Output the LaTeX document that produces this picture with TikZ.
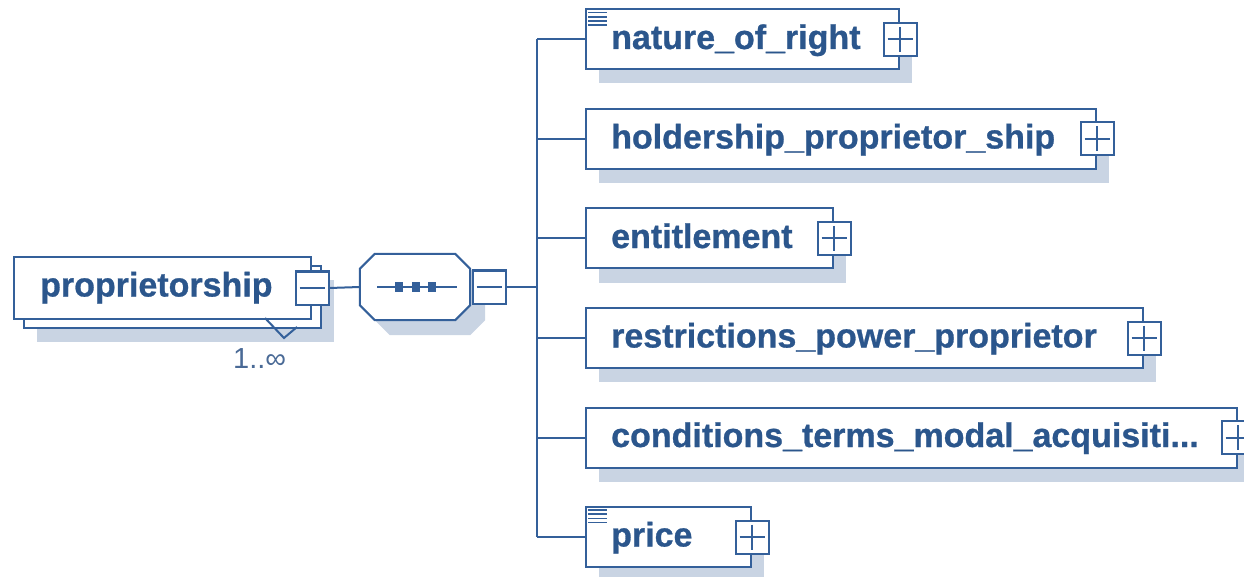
\documentclass[tikz,border=0pt]{standalone}
\usepackage{fontspec}
\setmainfont{Liberation Sans}[BoldFeatures={FakeBold=0.8}]
\usetikzlibrary{shadows}

\definecolor{edge}{HTML}{34609A}
\definecolor{ink}{HTML}{2B568C}
\definecolor{shade}{HTML}{C9D4E3}
\definecolor{cardink}{HTML}{4A6A96}

\tikzset{
  lw/.style={line width=2pt},
  boxshadow/.style={drop shadow={shadow xshift=13pt, shadow yshift=-14pt, fill=shade, opacity=1}},
  elem/.style={draw=edge, fill=white, rectangle, minimum height=60pt,
    inner sep=0pt, anchor=west, lw, boxshadow},
  plain/.style={draw=edge, fill=white, rectangle, inner sep=0pt, lw},
  elemname/.style={font=\bfseries\fontsize{34}{40}\selectfont, text=ink,
    anchor=base west, inner sep=0pt},
  expander/.style={draw=edge, fill=white, minimum size=33pt, inner sep=0pt, lw},
  plusbox/.style={expander, path picture={
    \draw[edge, lw]
      ([xshift=4pt]path picture bounding box.west) -- ([xshift=-4pt]path picture bounding box.east)
      ([yshift=-4pt]path picture bounding box.north) -- ([yshift=4pt]path picture bounding box.south);}},
  minusbox/.style={expander, path picture={
    \draw[edge, lw]
      ([xshift=4pt]path picture bounding box.west) -- ([xshift=-4pt]path picture bounding box.east);}},
  wire/.style={draw=edge, lw},
  docline/.style={draw=edge, line width=1.7pt},
  dot/.style={fill=edge, draw=none, minimum width=8pt, minimum height=10pt, inner sep=0pt},
}

\begin{document}
\begin{tikzpicture}[x=1pt, y=-1pt]
\useasboundingbox (0,0) rectangle (1244,577);

% ---- root element: repeated (1..inf) ----
\node[plain, minimum width=297pt, minimum height=62pt, anchor=north west, boxshadow]
  (rootback) at (23,265) {};
\node[plain, minimum width=297pt, minimum height=62pt, anchor=north west] (root) at (13,256) {};
\node[elemname] (rootname) at (40,296.5) {proprietorship};
\node[minusbox] (rootminus) at (root.east) {};
\draw[wire] (265,318) -- (284,338) -- (297,327);
\node[font=\fontsize{29}{32}\selectfont, text=cardink, anchor=base west, inner sep=0pt]
  (card) at (233,368) {1..∞};

% ---- sequence compositor (octagon) ----
\node[rectangle, minimum width=110pt, minimum height=66pt, inner sep=0pt] (seq) at (415,287) {};
\draw[wire, fill=white, drop shadow={shadow xshift=15pt, shadow yshift=-15pt, fill=shade, opacity=1}]
  ([xshift=15pt]seq.north west) -- ([xshift=-15pt]seq.north east)
  -- ([yshift=-15pt]seq.north east) -- ([yshift=15pt]seq.south east)
  -- ([xshift=-15pt]seq.south east) -- ([xshift=15pt]seq.south west)
  -- ([yshift=15pt]seq.south west) -- ([yshift=-15pt]seq.north west) -- cycle;
\coordinate (seqa) at (377,287);
\coordinate (seqb) at (457,287);
\draw[wire] (seqa) -- (seqb);
\node[dot] (d1) at (399,287) {};
\node[dot] (d2) at (415.5,287) {};
\node[dot] (d3) at (432,287) {};
\node[minusbox] (seqminus) at (489,287) {};

\draw[wire] (rootminus.east) -- (seq.west);

% ---- child elements ----
\node[elem, minimum width=313pt] (c1) at (585,39.5) {};
\node[elem, minimum width=510pt] (c2) at (585,139) {};
\node[elem, minimum width=247pt] (c3) at (585,238.5) {};
\node[elem, minimum width=557pt] (c4) at (585,338) {};
\node[elem, minimum width=651pt] (c5) at (585,437.5) {};
\node[elem, minimum width=165pt] (c6) at (585,537) {};

\node[elemname] (n1) at (611,49) {nature\_of\_right};
\node[elemname] (n2) at (611,148.5) {holdership\_proprietor\_ship};
\node[elemname] (n3) at (611,248) {entitlement};
\node[elemname] (n4) at (611,347.5) {restrictions\_power\_proprietor};
\node[elemname] (n5) at (611,447) {conditions\_terms\_modal\_acquisiti...};
\node[elemname] (n6) at (611,546.5) {price};

\foreach \c in {c1,c2,c3,c4,c5,c6}
  \node[plusbox] (\c plus) at (\c.east) {};

% documentation markers
\foreach \c in {c1,c6}
  \foreach \k in {0,1,2,3}
    \draw[docline] ([xshift=3pt, yshift={-4pt-4.2pt*\k}]\c.north west) -- ++(19,0);

% ---- tree connectors ----
\coordinate (trunk) at (537,287);
\draw[wire] (seqminus.east) -- (trunk);
\draw[wire] (c1.west -| trunk) -- (c6.west -| trunk);
\foreach \c in {c1,c2,c3,c4,c5,c6}
  \draw[wire] (\c.west -| trunk) -- (\c.west);

\end{tikzpicture}
\end{document}
